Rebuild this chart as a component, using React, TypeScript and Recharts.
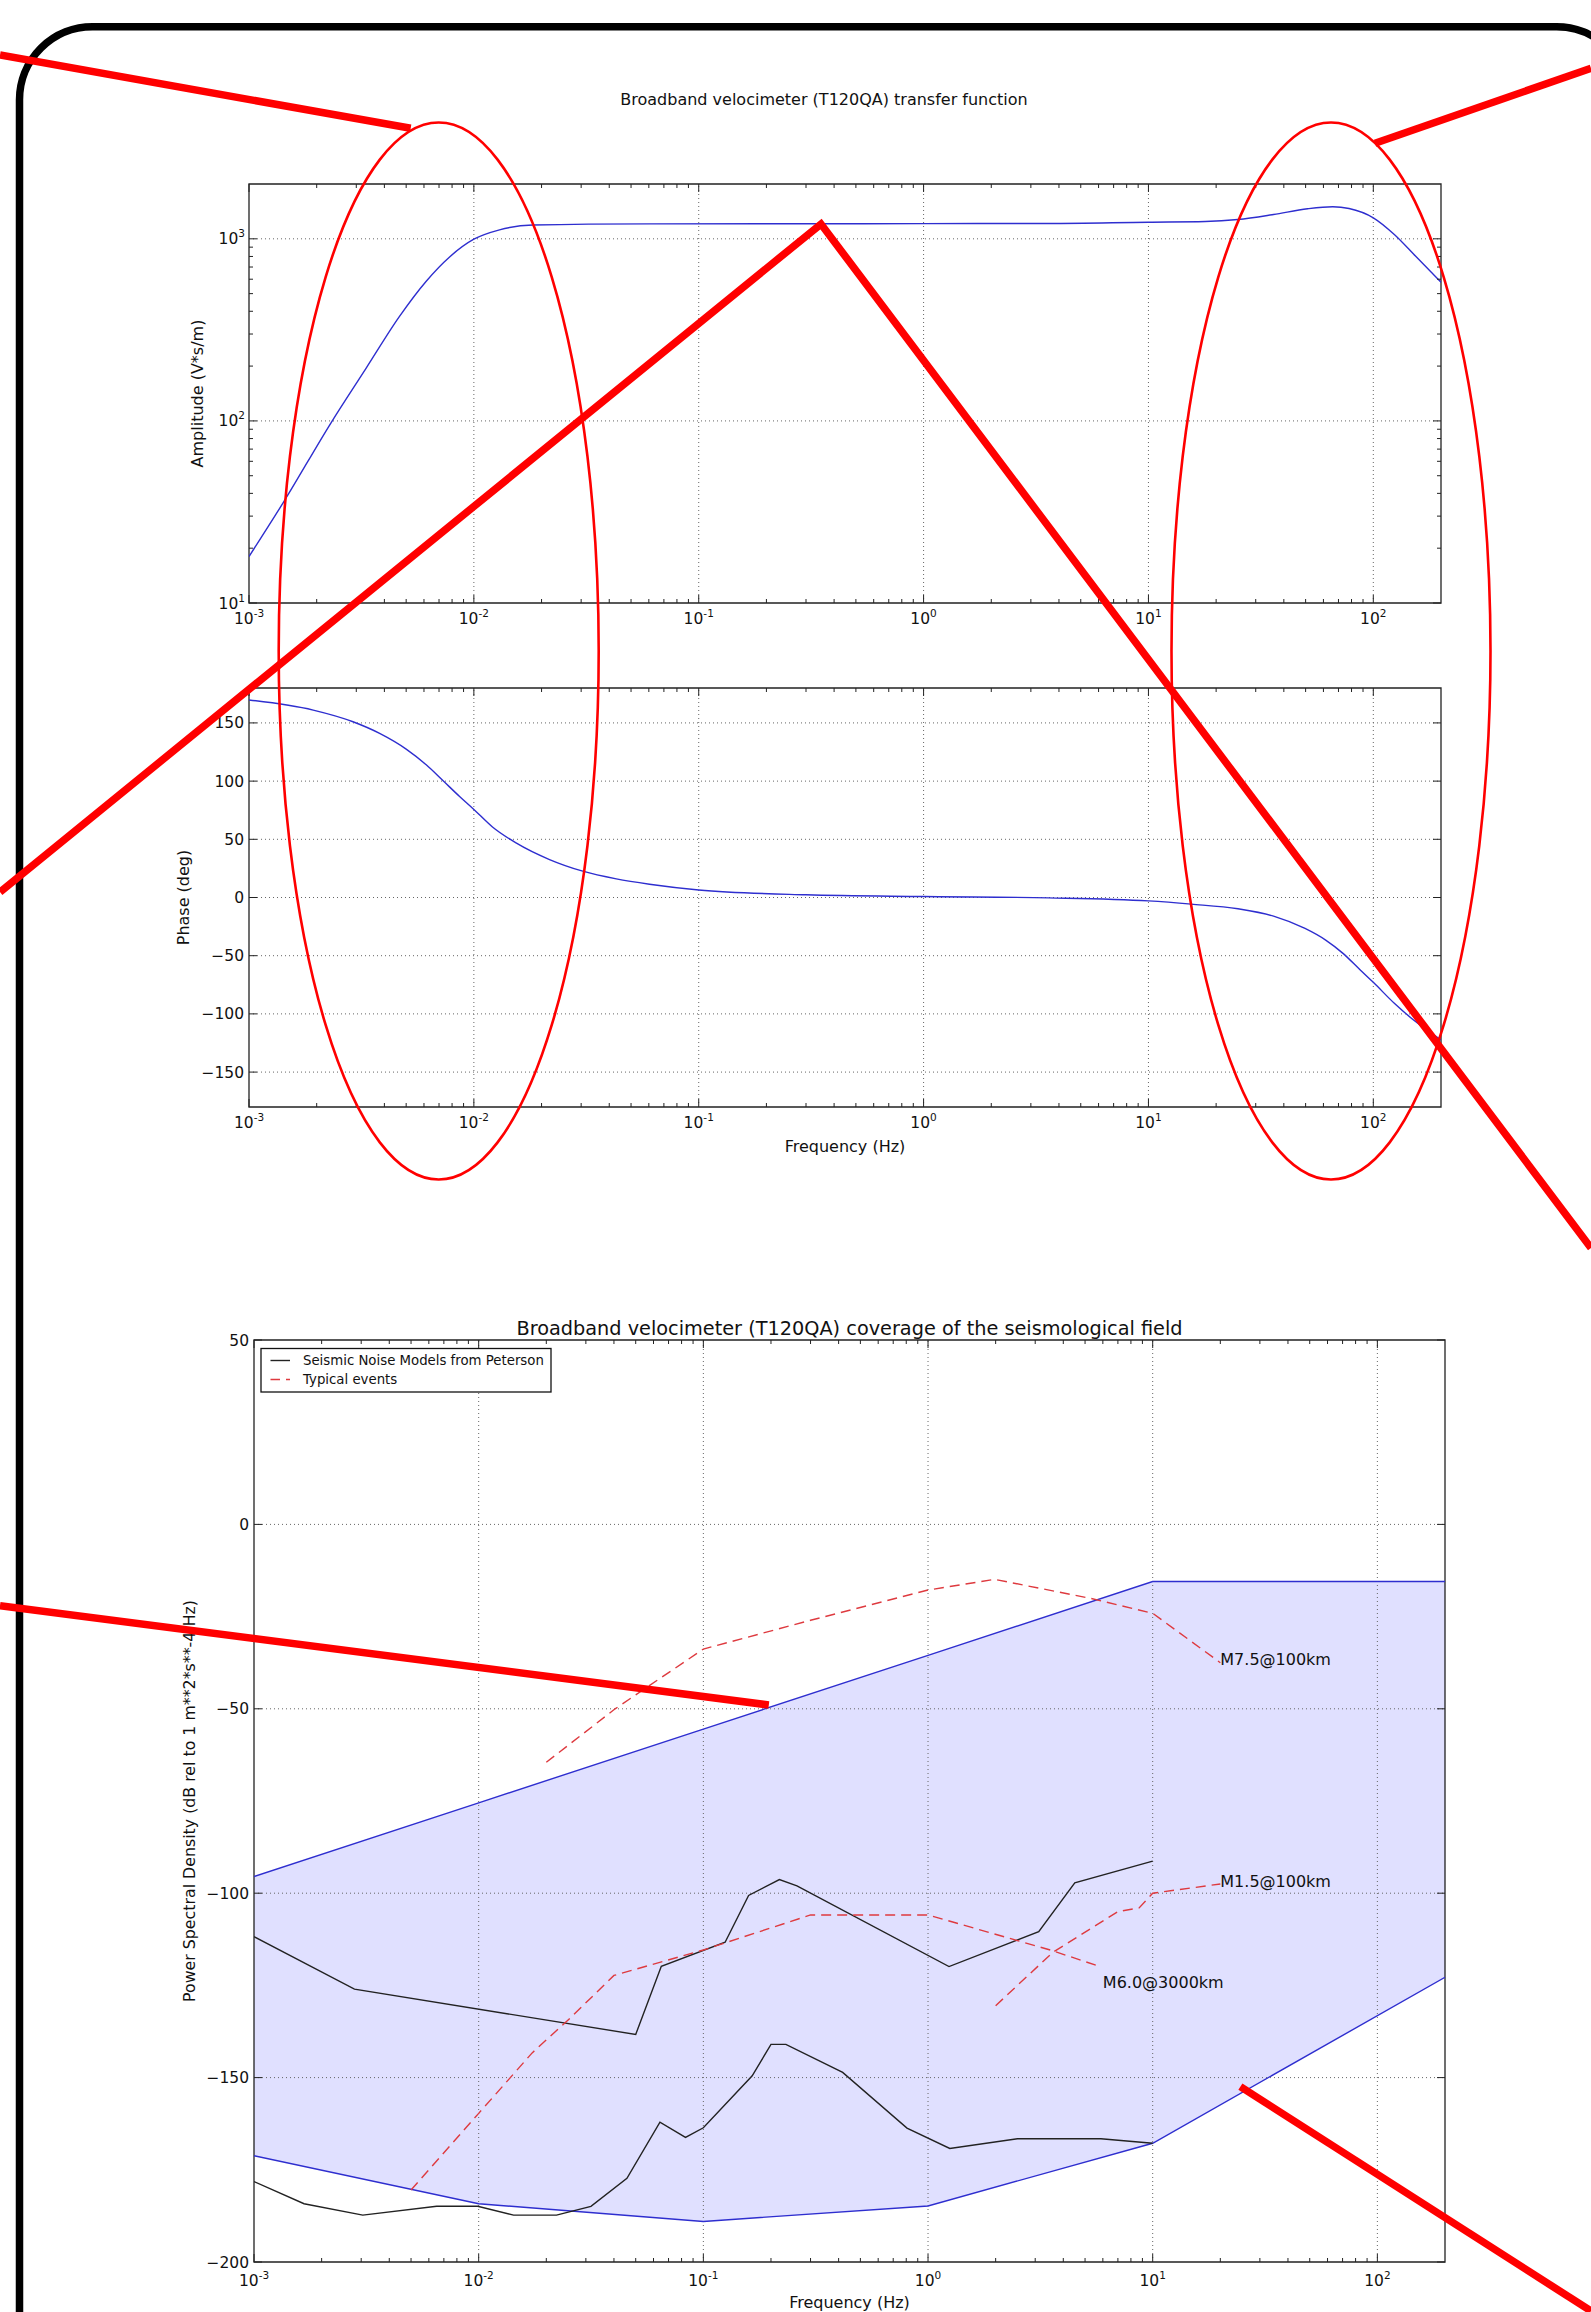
import React from 'react';
import {
  LineChart,
  ComposedChart,
  Line,
  Area,
  Scatter,
  XAxis,
  YAxis,
  ReferenceLine,
  ReferenceArea,
} from 'recharts';

// ---------- data ----------
// Transfer function amplitude (V*s/m)
const ampFreq = [0.001, 0.00142, 0.00232, 0.00332, 0.00467, 0.00614, 0.0078, 0.01, 0.013, 0.0183, 0.0604, 0.3, 1, 3.6, 10, 17.9, 25, 36, 51, 66, 78, 100, 124, 154, 200];
const ampValue = [18, 35.6, 98, 195, 375, 585, 795, 995, 1120, 1190, 1208, 1210, 1212, 1214, 1234, 1244, 1276, 1360, 1462, 1500, 1467, 1304, 1056, 804, 578];

// Transfer function phase (deg)
const phaseFreq = [0.001, 0.00193, 0.0029, 0.00381, 0.005, 0.00614, 0.00728, 0.00864, 0.01, 0.0121, 0.0154, 0.0217, 0.0305, 0.043, 0.0604, 0.1, 0.3, 1, 3.6, 10, 15.5, 25, 36, 49.7, 61.4, 73.3, 87.5, 100, 124, 154, 200];
const phaseValue = [169.7, 161, 151, 141, 127.5, 114, 100.5, 86.8, 75.7, 60.6, 46.9, 32.6, 22.6, 16, 11.4, 6.5, 2.3, 0.8, -0.3, -2.9, -5.7, -9.7, -16, -26.6, -36.6, -48, -62.3, -72.9, -90.9, -106.6, -122.3];

// Coverage band (dB)
const bandFreq = [0.001, 0.01, 0.1, 1, 10, 200];
const bandHigh = [-95.5, -75.5, -55.5, -35.5, -15.5, -15.5];
const bandLow = [-171.2, -184.2, -189, -184.8, -167.8, -122.8];

// Peterson noise models (dB)
const nhnmFreq = [0.001, 0.0028, 0.05, 0.065, 0.125, 0.159, 0.218, 0.261, 1.24, 3.11, 4.5, 10];
const nhnmDb = [-111.8, -126, -138.3, -119.8, -113.3, -100.6, -96.3, -98, -119.9, -110.4, -97.2, -91.3];
const nlnmFreq = [0.001, 0.00167, 0.00305, 0.0065, 0.0099, 0.0143, 0.0222, 0.0316, 0.0457, 0.0641, 0.0833, 0.1, 0.165, 0.2, 0.233, 0.417, 0.806, 1.25, 2.5, 5.88, 10];
const nlnmDb = [-178.2, -184.2, -187.3, -184.9, -184.9, -187.3, -187.3, -184.9, -177.3, -162.1, -166.2, -163.6, -149.5, -141, -141, -148.6, -163.7, -169.2, -166.6, -166.6, -167.8];

// Typical events (dB)
const m75Freq = [0.02, 0.0405, 0.1, 0.3, 1, 1.98, 5.33, 10, 20];
const m75Db = [-64.5, -50, -33.8, -26, -17.8, -14.9, -20.1, -24.1, -37.5];
const m15Freq = [2, 3.6, 7, 8.7, 10, 20];
const m15Db = [-130.5, -116, -105, -104, -100, -97.5];
const m60Freq = [0.005, 0.01, 0.0173, 0.0256, 0.04, 0.1, 0.3, 1, 3.5, 5.9];
const m60Db = [-180.5, -159.7, -143.3, -133.8, -122.3, -115.4, -105.9, -105.9, -115.4, -120];

const eventLabels = ['M7.5@100km', 'M1.5@100km', 'M6.0@3000km'];
const eventLabelFreq = [20, 20, 6];
const eventLabelDb = [-38.1, -98.3, -125.6];

// ticks
const xDecades = [0.001, 0.01, 0.1, 1, 10, 100];
const minorFactors = [2, 3, 4, 5, 6, 7, 8, 9];
const ampDecades = [10, 100, 1000];
const phaseTicks = [-150, -100, -50, 0, 50, 100, 150];
const psdTicks = [-200, -150, -100, -50, 0, 50];

// ---------- styling ----------
const FONT = 'DejaVu Sans, Verdana, sans-serif';
const FRAME = '#222';
const GRID = '#666';
const BLUE = '#2e2ecf';
const RED = '#de3a3f';
const BLACK = '#222';
const TICK_FS = 15.5;
const LABEL_FS = 16;

const W = 1591;

type Pt = { f: number; v: number };
const zip = (fs: number[], vs: number[]): Pt[] => fs.map((f, i) => ({ f, v: vs[i] }));

const ampData = zip(ampFreq, ampValue);
const phaseData = zip(phaseFreq, phaseValue);
const nhnmData = zip(nhnmFreq, nhnmDb);
const nlnmData = zip(nlnmFreq, nlnmDb);
const m75Data = zip(m75Freq, m75Db);
const m15Data = zip(m15Freq, m15Db);
const m60Data = zip(m60Freq, m60Db);
const bandData = bandFreq.map((f, i) => ({ f, range: [bandLow[i], bandHigh[i]], hi: bandHigh[i], lo: bandLow[i] }));
const labelData = eventLabels.map((t, i) => ({ f: eventLabelFreq[i], v: eventLabelDb[i], text: t }));

const logTicks = (decades: number[], max: number) => {
  const out: number[] = [];
  decades.forEach((d) => {
    out.push(d);
    minorFactors.forEach((m) => {
      const v = d * m;
      if (v < max * 0.999) out.push(v);
    });
  });
  return out;
};
const xTicks = logTicks(xDecades, 200);
const ampTicks = logTicks(ampDecades, 2000);

const isMajor = (v: number, decades: number[]) => decades.some((d) => Math.abs(v / d - 1) < 1e-6);

function Pow10({ x, y, exp, anchor }: { x: number; y: number; exp: number; anchor: 'start' | 'middle' | 'end' }) {
  const e = exp < 0 ? '-' + -exp : String(exp);
  return (
    <text x={x} y={y} textAnchor={anchor} fontFamily={FONT} fontSize={TICK_FS} fill="#111">
      10
      <tspan dy={-7} fontSize={10.5}>
        {e}
      </tspan>
    </text>
  );
}

const makeLogXTick = (plotH: number, labelDy: number) => (props: any) => {
  const { x, y, payload } = props;
  const v = payload.value as number;
  const major = isMajor(v, xDecades);
  const len = major ? 8 : 4;
  return (
    <g>
      <line x1={x} x2={x} y1={y} y2={y - len} stroke={FRAME} strokeWidth={1} />
      <line x1={x} x2={x} y1={y - plotH} y2={y - plotH + len} stroke={FRAME} strokeWidth={1} />
      {major && <Pow10 x={x} y={y + labelDy} exp={Math.round(Math.log10(v))} anchor="middle" />}
    </g>
  );
};

const makeLogYTick = (plotW: number) => (props: any) => {
  const { x, y, payload } = props;
  const v = payload.value as number;
  const major = isMajor(v, ampDecades);
  const len = major ? 8 : 4;
  return (
    <g>
      <line x1={x} x2={x + len} y1={y} y2={y} stroke={FRAME} strokeWidth={1} />
      <line x1={x + plotW} x2={x + plotW - len} y1={y} y2={y} stroke={FRAME} strokeWidth={1} />
      {major && <Pow10 x={x - 4} y={y + 5.5} exp={Math.round(Math.log10(v))} anchor="end" />}
    </g>
  );
};

const makeLinYTick = (plotW: number) => (props: any) => {
  const { x, y, payload } = props;
  const v = payload.value as number;
  const label = v < 0 ? '\u2212' + -v : String(v);
  return (
    <g>
      <line x1={x} x2={x + 8} y1={y} y2={y} stroke={FRAME} strokeWidth={1} />
      <line x1={x + plotW} x2={x + plotW - 8} y1={y} y2={y} stroke={FRAME} strokeWidth={1} />
      <text x={x - 5} y={y + 5.5} textAnchor="end" fontFamily={FONT} fontSize={TICK_FS} fill="#111">
        {label}
      </text>
    </g>
  );
};

const LabelShape = (props: any) => {
  const { cx, cy, payload } = props;
  return (
    <text x={cx} y={cy} textAnchor="start" fontFamily={FONT} fontSize={16} fill="#111">
      {payload.text}
    </text>
  );
};

const gridProps = { stroke: GRID, strokeDasharray: '1 3', strokeWidth: 1, ifOverflow: 'visible' as const };

export default function App() {
  const topPlotW = 1192;
  const topPlotH = 419;
  const psdPlotW = 1191;
  const psdPlotH = 922;
  return (
    <div style={{ position: 'absolute', left: 0, top: 0, width: W, height: 2312, background: '#fff', overflow: 'hidden' }}>
      {/* Amplitude */}
      <div style={{ position: 'absolute', left: 0, top: 0 }}>
        <LineChart width={W} height={650} margin={{ top: 184, right: 150, bottom: 46, left: 248 }}>
          <XAxis
            dataKey="f"
            type="number"
            scale="log"
            domain={[0.001, 200]}
            allowDataOverflow
            ticks={xTicks}
            interval={0}
            height={1}
            tickSize={0}
            tickMargin={0}
            axisLine={false}
            tickLine={false}
            tick={makeLogXTick(topPlotH, 21)}
          />
          <YAxis
            dataKey="v"
            type="number"
            scale="log"
            domain={[10, 2000]}
            allowDataOverflow
            ticks={ampTicks}
            interval={0}
            width={1}
            tickSize={0}
            tickMargin={0}
            axisLine={false}
            tickLine={false}
            tick={makeLogYTick(topPlotW)}
          />
          {xDecades.slice(1).map((d) => (
            <ReferenceLine key={'ax' + d} x={d} {...gridProps} />
          ))}
          {ampDecades.slice(1).map((d) => (
            <ReferenceLine key={'ay' + d} y={d} {...gridProps} />
          ))}
          <Line data={ampData} dataKey="v" type="monotone" stroke={BLUE} strokeWidth={1.4} dot={false} activeDot={false} isAnimationActive={false} />
          <ReferenceArea x1={0.001} x2={200} y1={10} y2={2000} fill="none" stroke={FRAME} strokeWidth={1.3} ifOverflow="visible" />
        </LineChart>
      </div>

      {/* Phase */}
      <div style={{ position: 'absolute', left: 0, top: 650 }}>
        <LineChart width={W} height={520} margin={{ top: 38, right: 150, bottom: 62, left: 248 }}>
          <XAxis
            dataKey="f"
            type="number"
            scale="log"
            domain={[0.001, 200]}
            allowDataOverflow
            ticks={xTicks}
            interval={0}
            height={1}
            tickSize={0}
            tickMargin={0}
            axisLine={false}
            tickLine={false}
            tick={makeLogXTick(topPlotH, 21)}
          />
          <YAxis
            dataKey="v"
            type="number"
            domain={[-180, 180]}
            allowDataOverflow
            ticks={phaseTicks}
            interval={0}
            width={1}
            tickSize={0}
            tickMargin={0}
            axisLine={false}
            tickLine={false}
            tick={makeLinYTick(topPlotW)}
          />
          {xDecades.slice(1).map((d) => (
            <ReferenceLine key={'px' + d} x={d} {...gridProps} />
          ))}
          {phaseTicks.map((d) => (
            <ReferenceLine key={'py' + d} y={d} {...gridProps} />
          ))}
          <Line data={phaseData} dataKey="v" type="monotone" stroke={BLUE} strokeWidth={1.4} dot={false} activeDot={false} isAnimationActive={false} />
          <ReferenceArea x1={0.001} x2={200} y1={-180} y2={180} fill="none" stroke={FRAME} strokeWidth={1.3} ifOverflow="visible" />
        </LineChart>
      </div>

      {/* PSD coverage */}
      <div style={{ position: 'absolute', left: 0, top: 1170 }}>
        <ComposedChart width={W} height={1142} data={bandData} margin={{ top: 170, right: 146, bottom: 49, left: 253 }}>
          <XAxis
            dataKey="f"
            type="number"
            scale="log"
            domain={[0.001, 200]}
            allowDataOverflow
            ticks={xTicks}
            interval={0}
            height={1}
            tickSize={0}
            tickMargin={0}
            axisLine={false}
            tickLine={false}
            tick={makeLogXTick(psdPlotH, 24)}
          />
          <YAxis
            type="number"
            domain={[-200, 50]}
            allowDataOverflow
            ticks={psdTicks}
            interval={0}
            width={1}
            tickSize={0}
            tickMargin={0}
            axisLine={false}
            tickLine={false}
            tick={makeLinYTick(psdPlotW)}
          />
          {xDecades.slice(1).map((d) => (
            <ReferenceLine key={'sx' + d} x={d} {...gridProps} />
          ))}
          {psdTicks.slice(1, -1).map((d) => (
            <ReferenceLine key={'sy' + d} y={d} {...gridProps} />
          ))}
          <Area dataKey="range" type="linear" stroke="none" fill="#0000ff" fillOpacity={0.12} isAnimationActive={false} activeDot={false} />
          <Line dataKey="hi" type="linear" stroke={BLUE} strokeWidth={1.4} dot={false} activeDot={false} isAnimationActive={false} />
          <Line dataKey="lo" type="linear" stroke={BLUE} strokeWidth={1.4} dot={false} activeDot={false} isAnimationActive={false} />
          <Line data={nhnmData} dataKey="v" type="linear" stroke={BLACK} strokeWidth={1.4} dot={false} activeDot={false} isAnimationActive={false} />
          <Line data={nlnmData} dataKey="v" type="linear" stroke={BLACK} strokeWidth={1.4} dot={false} activeDot={false} isAnimationActive={false} />
          <Line data={m75Data} dataKey="v" type="linear" stroke={RED} strokeWidth={1.4} strokeDasharray="10 6" dot={false} activeDot={false} isAnimationActive={false} />
          <Line data={m15Data} dataKey="v" type="linear" stroke={RED} strokeWidth={1.4} strokeDasharray="10 6" dot={false} activeDot={false} isAnimationActive={false} />
          <Line data={m60Data} dataKey="v" type="linear" stroke={RED} strokeWidth={1.4} strokeDasharray="10 6" dot={false} activeDot={false} isAnimationActive={false} />
          <Scatter data={labelData} dataKey="v" shape={LabelShape} isAnimationActive={false} />
          <ReferenceArea x1={0.001} x2={200} y1={-200} y2={50} fill="none" stroke={FRAME} strokeWidth={1.3} ifOverflow="visible" />
        </ComposedChart>
      </div>

      {/* titles, axis labels, legend, annotations */}
      <svg width={W} height={2312} style={{ position: 'absolute', left: 0, top: 0, pointerEvents: 'none' }}>
        <g fontFamily={FONT} fill="#111">
          <text x={824} y={105} textAnchor="middle" fontSize={16}>
            Broadband velocimeter (T120QA) transfer function
          </text>
          <text x={197} y={393.5} textAnchor="middle" fontSize={LABEL_FS} dominantBaseline="central" transform="rotate(-90 197 393.5)">
            Amplitude (V*s/m)
          </text>
          <text x={183} y={897.5} textAnchor="middle" fontSize={LABEL_FS} dominantBaseline="central" transform="rotate(-90 183 897.5)">
            Phase (deg)
          </text>
          <text x={845} y={1151.5} textAnchor="middle" fontSize={LABEL_FS}>
            Frequency (Hz)
          </text>
          <text x={849.5} y={1335} textAnchor="middle" fontSize={19.3}>
            Broadband velocimeter (T120QA) coverage of the seismological field
          </text>
          <text x={189} y={1801} textAnchor="middle" fontSize={15.8} dominantBaseline="central" transform="rotate(-90 189 1801)">
            Power Spectral Density (dB rel to 1 m**2*s**-4/Hz)
          </text>
          <text x={849.5} y={2307.5} textAnchor="middle" fontSize={LABEL_FS}>
            Frequency (Hz)
          </text>
        </g>

        {/* legend */}
        <g>
          <rect x={261} y={1348.5} width={290} height={43.5} fill="#fff" stroke="#111" strokeWidth={1.3} />
          <line x1={270.5} x2={290} y1={1360.5} y2={1360.5} stroke={BLACK} strokeWidth={1.4} />
          <line x1={270.5} x2={290} y1={1379.5} y2={1379.5} stroke={RED} strokeWidth={1.4} strokeDasharray="9.5 6" />
          <text x={303} y={1365} fontFamily={FONT} fontSize={13.3} fill="#111">
            Seismic Noise Models from Peterson
          </text>
          <text x={303} y={1384} fontFamily={FONT} fontSize={13.3} fill="#111">
            Typical events
          </text>
        </g>

        {/* rounded black frame */}
        <rect x={19.5} y={26.7} width={1610} height={2500} rx={73} ry={73} fill="none" stroke="#000" strokeWidth={7.5} />

        {/* red annotations */}
        <g stroke="#ff0000" fill="none">
          <ellipse cx={438.7} cy={651} rx={160} ry={528.5} strokeWidth={2.6} />
          <ellipse cx={1331} cy={651} rx={159.5} ry={528.5} strokeWidth={2.6} />
          <line x1={0} y1={55} x2={410.7} y2={128.3} strokeWidth={7.5} />
          <line x1={1375} y1={143.3} x2={1591} y2={68.3} strokeWidth={7.5} />
          <polyline points="0,892 821,224 1591,1248" strokeWidth={7.5} strokeLinejoin="miter" strokeMiterlimit={10} />
          <line x1={0} y1={1605.7} x2={768.8} y2={1705} strokeWidth={7.5} />
          <line x1={1240.4} y1={2086.7} x2={1591} y2={2311} strokeWidth={7.5} />
        </g>
      </svg>
    </div>
  );
}
